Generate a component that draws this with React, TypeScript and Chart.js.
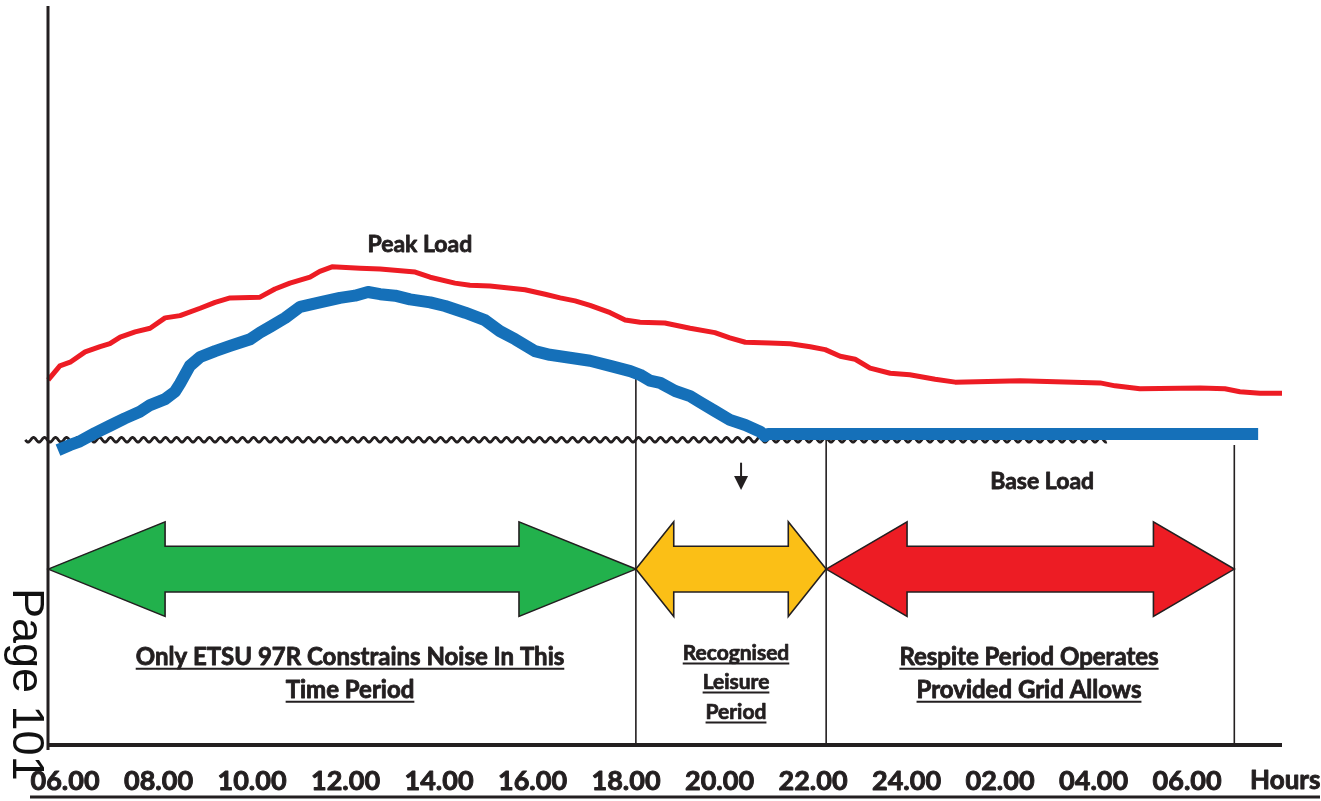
import React, { useEffect, useRef } from "react";
import { Chart, registerables } from "chart.js";

Chart.register(...registerables);

// ---- data (x: hours after 06.00, y: relative load 0..100) ----
const tickHours = [0, 2, 4, 6, 8, 10, 12, 14, 16, 18, 20, 22, 24];
const tickLabels = ["06.00", "08.00", "10.00", "12.00", "14.00", "16.00", "18.00", "20.00", "22.00", "24.00", "02.00", "04.00", "06.00"];
const unitLabel = "Hours";
const unitHour = 26.1;

const peakHours = [-0.36, -0.11, 0.11, 0.43, 0.75, 0.96, 1.18, 1.5, 1.82, 2.14, 2.46, 2.89, 3.21, 3.53, 4.17, 4.49, 4.81, 5.24, 5.45, 5.71, 6.31, 6.74, 7.49, 7.81, 8.34, 8.66, 9.09, 9.84, 10.27, 10.59, 10.91, 11.23, 11.66, 11.98, 12.3, 12.83, 13.37, 13.9, 14.22, 14.55, 15.08, 15.51, 15.94, 16.26, 16.58, 16.9, 17.22, 17.65, 18.07, 18.61, 19.04, 20.43, 22.14, 22.46, 22.99, 24.28, 24.81, 25.13, 25.56, 26.03];
const peakLoad = [49.4, 51.3, 51.8, 53.2, 53.9, 54.3, 55.2, 55.9, 56.4, 57.8, 58.1, 59.1, 59.9, 60.5, 60.6, 61.7, 62.5, 63.3, 64.1, 64.7, 64.5, 64.4, 64.0, 63.3, 62.5, 62.2, 62.1, 61.6, 61.0, 60.5, 60.1, 59.5, 58.5, 57.5, 57.2, 57.1, 56.4, 55.8, 55.1, 54.5, 54.4, 54.3, 53.9, 53.5, 52.6, 52.2, 51.0, 50.3, 50.1, 49.5, 49.1, 49.3, 49.0, 48.6, 48.2, 48.3, 48.2, 47.8, 47.6, 47.6];

const baseHours = [-0.15, 0.11, 0.32, 0.64, 0.96, 1.28, 1.6, 1.82, 2.14, 2.35, 2.46, 2.67, 2.89, 3.21, 3.53, 3.96, 4.17, 4.39, 4.71, 5.03, 5.45, 5.88, 6.2, 6.48, 6.74, 7.06, 7.38, 7.81, 8.13, 8.56, 8.98, 9.3, 9.63, 10.05, 10.37, 10.8, 11.23, 11.66, 12.09, 12.3, 12.51, 12.73, 13.05, 13.37, 13.58, 13.9, 14.22, 14.55, 14.87, 14.97, 15.04, 25.52];
const baseLoad = [39.9, 40.6, 41.1, 42.2, 43.2, 44.2, 45.1, 46.0, 46.8, 47.8, 48.9, 51.3, 52.5, 53.3, 54.0, 54.9, 55.8, 56.6, 57.8, 59.3, 59.9, 60.5, 60.8, 61.3, 61.0, 60.8, 60.3, 59.9, 59.4, 58.5, 57.5, 56.0, 54.9, 53.3, 52.8, 52.4, 52.0, 51.3, 50.6, 50.1, 49.3, 49.0, 47.9, 47.2, 46.4, 45.2, 44.0, 43.3, 42.4, 41.8, 42.1, 42.1];

const baseLevel = 41.3;
const baseLevelFrom = -0.85;
const baseLevelTo = 22.29;

const periodBounds = [-0.36, 12.21, 16.28, 25.01];
const boundaryTops = [50.1, 42.4, 40.6];
const periodColors = ["#22b14c", "#fbbf16", "#ed1c24"];
const periodHeads = [2.5, 0.81, 1.73];
const periodLabels = [
  ["Only ETSU 97R Constrains Noise In This", "Time Period"],
  ["Recognised", "Leisure", "Period"],
  ["Respite Period Operates", "Provided Grid Allows"],
];
const peakLabel = "Peak Load";
const baseLabel = "Base Load";
const pageLabel = "Page 101";

const INK = "#231f20";
const FONT = "Lato, 'DejaVu Sans', sans-serif";

function boldText(ctx: CanvasRenderingContext2D, text: string, x: number, y: number, size: number) {
  ctx.font = `bold ${size}px ${FONT}`;
  ctx.fillStyle = INK;
  ctx.strokeStyle = INK;
  ctx.lineWidth = size * 0.035;
  ctx.lineJoin = "round";
  ctx.fillText(text, x, y);
  ctx.strokeText(text, x, y);
}

function underlined(ctx: CanvasRenderingContext2D, text: string, cx: number, cy: number, size: number) {
  ctx.textAlign = "center";
  ctx.textBaseline = "alphabetic";
  const base = cy + size * 0.36;
  boldText(ctx, text, cx, base, size);
  const w = ctx.measureText(text).width;
  ctx.strokeStyle = INK;
  ctx.lineWidth = 2;
  ctx.beginPath();
  ctx.moveTo(cx - w / 2, base + 4);
  ctx.lineTo(cx + w / 2, base + 4);
  ctx.stroke();
}

const diagram = {
  id: "diagram",
  beforeDatasetsDraw(chart: any) {
    const { ctx } = chart;
    const xs = chart.scales.x;
    const ys = chart.scales.y;
    ctx.save();
    // wavy base level
    const x0 = xs.getPixelForValue(baseLevelFrom);
    const x1 = xs.getPixelForValue(baseLevelTo);
    const yc = ys.getPixelForValue(baseLevel);
    ctx.strokeStyle = INK;
    ctx.lineWidth = 2.8;
    ctx.beginPath();
    for (let px = x0; px <= x1; px += 0.5) {
      const py = yc + 2.3 * Math.sin(((px - x0) / 11) * Math.PI * 2);
      if (px === x0) ctx.moveTo(px, py);
      else ctx.lineTo(px, py);
    }
    ctx.stroke();
    // vertical period boundaries
    ctx.lineWidth = 1.6;
    for (let i = 1; i < periodBounds.length; i++) {
      const px = xs.getPixelForValue(periodBounds[i]);
      ctx.beginPath();
      ctx.moveTo(px, ys.getPixelForValue(boundaryTops[i - 1]));
      ctx.lineTo(px, ys.getPixelForValue(0));
      ctx.stroke();
    }
    ctx.restore();
  },
  afterDatasetsDraw(chart: any) {
    const { ctx, chartArea } = chart;
    const xs = chart.scales.x;
    const ys = chart.scales.y;
    ctx.save();
    // axes
    ctx.strokeStyle = INK;
    ctx.lineWidth = 3;
    ctx.beginPath();
    ctx.moveTo(chartArea.left, chartArea.top);
    ctx.lineTo(chartArea.left, chartArea.bottom + 5);
    ctx.stroke();
    ctx.lineWidth = 4;
    ctx.beginPath();
    ctx.moveTo(chartArea.left, chartArea.bottom);
    ctx.lineTo(chartArea.right, chartArea.bottom);
    ctx.stroke();

    // arrows
    const cy = ys.getPixelForValue(23.8);
    const hh = ys.getPixelForValue(23.8 - 6.4) - cy;
    const hs = ys.getPixelForValue(23.8 - 3.1) - cy;
    for (let i = 0; i < periodColors.length; i++) {
      const xl = xs.getPixelForValue(periodBounds[i]);
      const xr = xs.getPixelForValue(periodBounds[i + 1]);
      const hl = xs.getPixelForValue(periodBounds[i] + periodHeads[i]) - xl;
      ctx.beginPath();
      ctx.moveTo(xl, cy);
      ctx.lineTo(xl + hl, cy - hh);
      ctx.lineTo(xl + hl, cy - hs);
      ctx.lineTo(xr - hl, cy - hs);
      ctx.lineTo(xr - hl, cy - hh);
      ctx.lineTo(xr, cy);
      ctx.lineTo(xr - hl, cy + hh);
      ctx.lineTo(xr - hl, cy + hs);
      ctx.lineTo(xl + hl, cy + hs);
      ctx.lineTo(xl + hl, cy + hh);
      ctx.closePath();
      ctx.fillStyle = periodColors[i];
      ctx.fill();
      ctx.lineWidth = 1.6;
      ctx.strokeStyle = INK;
      ctx.lineJoin = "miter";
      ctx.stroke();
    }

    // small down arrow
    const ax = xs.getPixelForValue(14.46);
    const aTop = ys.getPixelForValue(38.2);
    const aBot = ys.getPixelForValue(34.5);
    ctx.lineWidth = 2;
    ctx.beginPath();
    ctx.moveTo(ax, aTop);
    ctx.lineTo(ax, aBot - 8);
    ctx.stroke();
    ctx.fillStyle = INK;
    ctx.beginPath();
    ctx.moveTo(ax - 7, aBot - 14);
    ctx.lineTo(ax + 7, aBot - 14);
    ctx.lineTo(ax, aBot);
    ctx.closePath();
    ctx.fill();

    // labels
    ctx.textAlign = "center";
    ctx.textBaseline = "middle";
    boldText(ctx, peakLabel, xs.getPixelForValue(7.59), ys.getPixelForValue(67.7), 23);
    boldText(ctx, baseLabel, xs.getPixelForValue(20.9), ys.getPixelForValue(35.7), 23);

    const lineYs = [
      [656, 689],
      [652, 681, 711],
      [656, 689],
    ];
    const sizes = [24, 21, 24];
    const centers = [350, 736, 1029];
    periodLabels.forEach((lines, i) => {
      lines.forEach((t, j) => underlined(ctx, t, centers[i], lineYs[i][j], sizes[i]));
    });

    // tick labels
    ctx.textAlign = "center";
    ctx.textBaseline = "middle";
    tickHours.forEach((h, i) => boldText(ctx, tickLabels[i], xs.getPixelForValue(h), 781, 27));
    boldText(ctx, unitLabel, xs.getPixelForValue(unitHour), 781, 26);
    ctx.lineWidth = 3;
    ctx.beginPath();
    ctx.moveTo(30, 797);
    ctx.lineTo(1320, 797);
    ctx.stroke();

    // page number (rotated)
    ctx.save();
    ctx.translate(13, 588);
    ctx.rotate(Math.PI / 2);
    ctx.font = `45px 'Liberation Sans', Arial, sans-serif`;
    ctx.textAlign = "left";
    ctx.textBaseline = "alphabetic";
    ctx.fillStyle = "#111";
    ctx.fillText(pageLabel, 0, 0);
    ctx.restore();

    ctx.restore();
  },
};

export default function App() {
  const ref = useRef<HTMLCanvasElement | null>(null);
  useEffect(() => {
    if (!ref.current) return;
    const chart = new Chart(ref.current, {
      type: "line",
      data: {
        datasets: [
          {
            label: "Peak",
            data: peakHours.map((h, i) => ({ x: h, y: peakLoad[i] })),
            borderColor: "#ed1c24",
            borderWidth: 5,
            pointRadius: 0,
            tension: 0,
            borderJoinStyle: "round",
          },
          {
            label: "Base",
            data: baseHours.map((h, i) => ({ x: h, y: baseLoad[i] })),
            borderColor: "#1570b9",
            borderWidth: 12,
            pointRadius: 0,
            tension: 0,
            borderCapStyle: "butt",
            borderJoinStyle: "round",
          },
        ],
      },
      options: {
        responsive: false,
        animation: false,
        devicePixelRatio: 1,
        layout: { padding: { left: 48, right: 39, top: 6, bottom: 56 } },
        scales: {
          x: { type: "linear", min: -0.364, max: 26.03, display: false },
          y: { min: 0, max: 100, display: false },
        },
        plugins: { legend: { display: false }, tooltip: { enabled: false } },
        clip: false,
      } as any,
      plugins: [diagram],
    });
    return () => chart.destroy();
  }, []);
  return (
    <div style={{ position: "absolute", left: 0, top: 0, width: 1321, height: 801, background: "#fff" }}>
      <canvas ref={ref} width={1321} height={801} style={{ width: 1321, height: 801, display: "block" }} />
    </div>
  );
}
